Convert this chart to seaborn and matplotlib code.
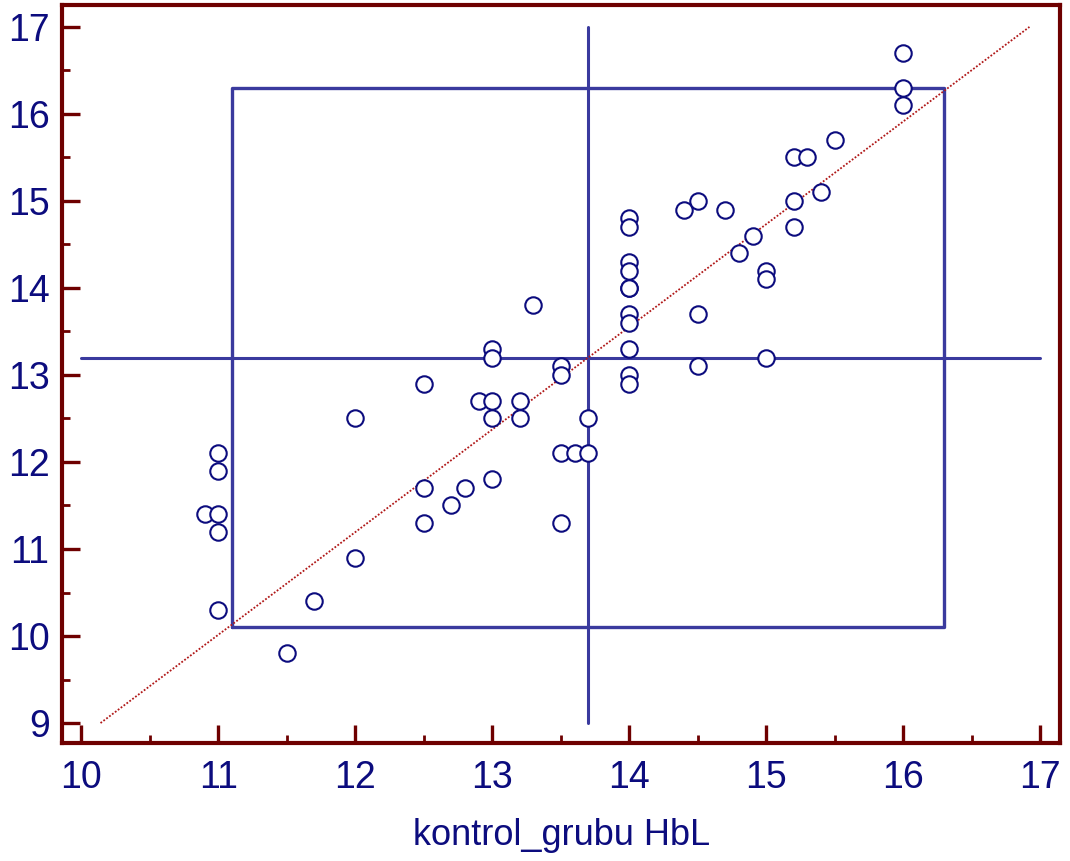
import numpy as np
import pandas as pd
import matplotlib
matplotlib.use("Agg")
import matplotlib.pyplot as plt
from matplotlib.ticker import MultipleLocator
import seaborn as sns

# HbL measurements: control group (x) vs. comparison (y)
hbl_x = [10.9, 11.0, 11.0, 11.0, 11.0, 11.0, 11.5, 11.7, 12.0, 12.0,
         12.5, 12.5, 12.5, 12.7, 12.8, 12.9, 13.0, 13.0, 13.0, 13.0,
         13.0, 13.2, 13.2, 13.3, 13.5, 13.5, 13.5, 13.5, 13.6, 13.7,
         13.7, 14.0, 14.0, 14.0, 14.0, 14.0, 14.0, 14.0, 14.0, 14.0,
         14.0, 14.0, 14.4, 14.5, 14.5, 14.5, 14.7, 14.8, 14.9, 15.0,
         15.0, 15.0, 15.2, 15.2, 15.2, 15.3, 15.4, 15.5, 16.0, 16.0,
         16.0]
hbl_y = [11.4, 12.1, 11.9, 11.4, 11.2, 10.3, 9.8, 10.4, 12.5, 10.9,
         12.9, 11.7, 11.3, 11.5, 11.7, 12.7, 13.3, 13.2, 12.7, 12.5,
         11.8, 12.7, 12.5, 13.8, 13.1, 13.0, 12.1, 11.3, 12.1, 12.5,
         12.1, 14.8, 14.7, 14.3, 14.2, 14.0, 14.0, 13.7, 13.6, 13.3,
         13.0, 12.9, 14.9, 15.0, 13.7, 13.1, 14.9, 14.4, 14.6, 14.2,
         14.1, 13.2, 15.5, 15.0, 14.7, 15.5, 15.1, 15.7, 16.7, 16.3,
         16.1]

# Reference lines and range box
center_x, center_y = 13.7, 13.2
box_x = [11.1, 16.3]
box_y = [10.1, 16.3]
fit_slope = 1.18
fit_y_range = [9.0, 17.0]

x_ticks = [10, 11, 12, 13, 14, 15, 16, 17]
y_ticks = [9, 10, 11, 12, 13, 14, 15, 16, 17]
x_label = "kontrol_grubu HbL"

navy = "#0c0c7e"
line_blue = "#3a3a9e"
dark_red = "#6e0000"
fit_red = "#b01818"

sns.set_theme(style="white")
plt.rcParams["font.family"] = ["Liberation Sans", "DejaVu Sans"]

fig = plt.figure(figsize=(10.70, 8.61), dpi=100)
ax = fig.add_axes([0.058, 0.137, 0.933, 0.857])

df = pd.DataFrame({"x": hbl_x, "y": hbl_y})

# crosshair at the centre values
ax.plot([x_ticks[0], x_ticks[-1]], [center_y, center_y], color=line_blue, lw=2.2, zorder=1)
ax.plot([center_x, center_x], [y_ticks[0], y_ticks[-1]], color=line_blue, lw=2.2, zorder=1)

# range box
ax.plot([box_x[0], box_x[1], box_x[1], box_x[0], box_x[0]],
        [box_y[0], box_y[0], box_y[1], box_y[1], box_y[0]],
        color=line_blue, lw=2.4, zorder=1)

# fitted line through the centre point
fy = np.array(fit_y_range)
fx = center_x + (fy - center_y) / fit_slope
ax.plot(fx, fy, color=fit_red, lw=1.3, ls=(0, (1, 1)), zorder=2)

sns.scatterplot(data=df, x="x", y="y", ax=ax, s=140, marker="o",
                facecolor="white", edgecolor=navy, linewidth=1.5, zorder=3)

ax.set_xlim(9.86, 17.146)
ax.set_ylim(8.77, 17.25)
ax.set_xticks(x_ticks)
ax.set_yticks(y_ticks)
ax.xaxis.set_minor_locator(MultipleLocator(0.5))
ax.yaxis.set_minor_locator(MultipleLocator(0.5))

for s in ax.spines.values():
    s.set_visible(True)
    s.set_color(dark_red)
    s.set_linewidth(3.0)

ax.tick_params(axis="both", which="major", direction="in", length=13, width=2.4,
               color=dark_red, labelcolor=navy, labelsize=27, pad=12)
ax.tick_params(axis="both", which="minor", direction="in", length=6, width=2.0,
               color=dark_red)
ax.tick_params(axis="x", which="both", bottom=True, top=False)
ax.tick_params(axis="y", which="both", left=True, right=False)
ax.tick_params(axis="y", which="major", pad=9)

ax.set_xlabel(x_label, fontsize=26, color=navy, labelpad=16)
ax.set_ylabel("")
ax.grid(False)

fig.savefig("out.png", dpi=100, facecolor="white")
